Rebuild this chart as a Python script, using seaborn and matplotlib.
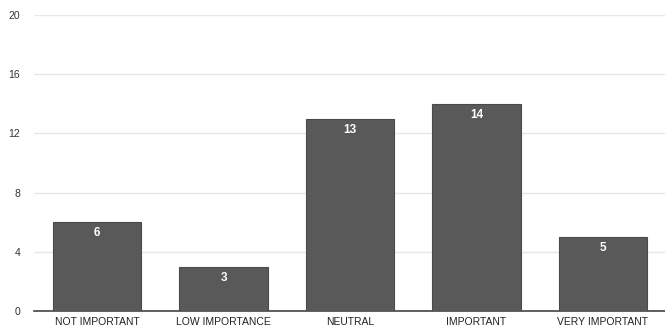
import matplotlib
matplotlib.use("Agg")
import matplotlib.pyplot as plt
import seaborn as sns
import pandas as pd

categories = ["NOT IMPORTANT", "LOW IMPORTANCE", "NEUTRAL", "IMPORTANT", "VERY IMPORTANT"]
counts = [6, 3, 13, 14, 5]
y_ticks = [0, 4, 8, 12, 16, 20]

df = pd.DataFrame({"category": categories, "count": counts})

sns.set_theme(style="white")
plt.rcParams['font.family'] = ['Liberation Sans', 'DejaVu Sans']

fig = plt.figure(figsize=(6.65, 3.32), dpi=100)
ax = fig.add_axes([34/665, (332-311)/332, (666-34)/665, (311-15)/332])

sns.barplot(data=df, x="category", y="count", color="#595959", width=0.7,
            saturation=1, ax=ax, zorder=3)
for p in ax.patches:
    p.set_edgecolor("#4a4a4a")
    p.set_linewidth(0.8)

for i, v in enumerate(counts):
    ax.text(i, v - 0.35, str(v), ha="center", va="top", color="white",
            fontsize=8.5, fontweight="bold", zorder=4)

ax.set_ylim(0, 20)
ax.set_yticks(y_ticks)
ax.set_yticklabels([str(t) for t in y_ticks], fontsize=7.5, color="#333333")
ax.tick_params(axis="y", length=0, pad=10)
ax.tick_params(axis="x", length=0, pad=4, labelsize=7.5, labelcolor="#222222")
ax.yaxis.grid(True, color="#e6e6e6", linewidth=1, zorder=0)
ax.set_xlabel("")
ax.set_ylabel("")
for s in ["top", "right", "left"]:
    ax.spines[s].set_visible(False)
ax.spines["bottom"].set_color("#444444")
ax.spines["bottom"].set_linewidth(1.2)
ax.set_xlim(-0.5, 4.5)

fig.savefig("out.png", dpi=100)
